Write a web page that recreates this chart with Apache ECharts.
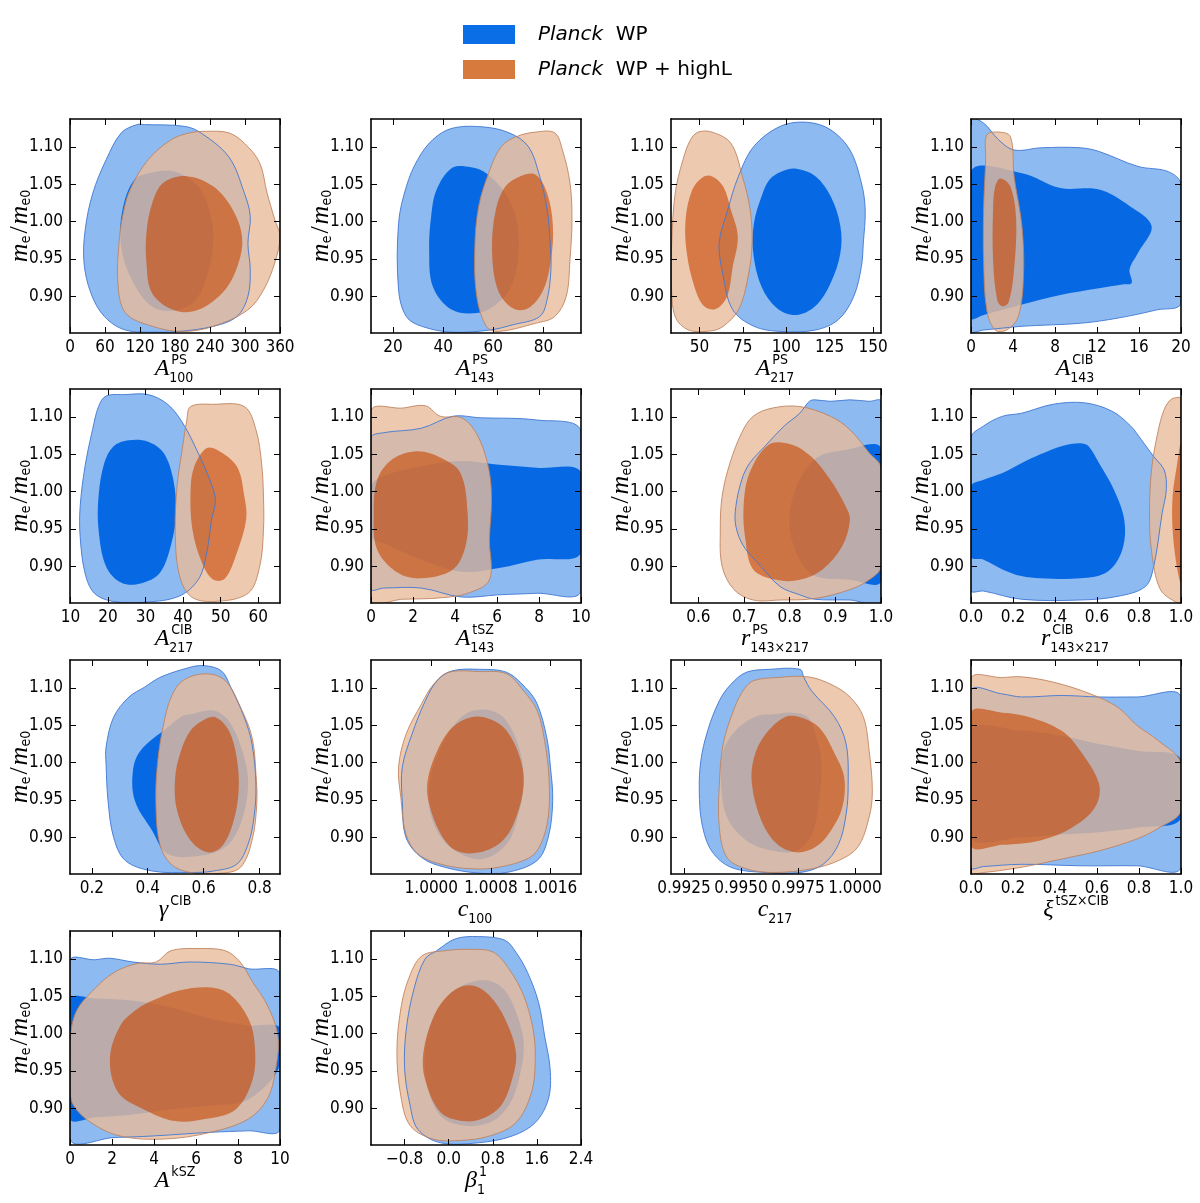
<!DOCTYPE html>
<html>
<head>
<meta charset="utf-8">
<script src="https://cdn.jsdelivr.net/npm/echarts@6/dist/echarts.min.js"></script>
<style>
html, body { margin: 0; padding: 0; background: #fff; }
#main { width: 1200px; height: 1203px; }
</style>
</head>
<body>
<div id="main"></div>
<script>
// shared y axis (m_e / m_e0)
var yTicks = [0.90, 0.95, 1.00, 1.05, 1.10];
var yMin = 0.851, yMax = 1.1375;

// ---------- A^PS_100 ----------
var A100_ticks = [0, 60, 120, 180, 240, 300, 360];
var A100_wp95 = [[128,1.13],[193,1.128],[220,1.121],[272,1.087],[299,1.038],[309,1.007],[305,0.971],[309,0.936],[305,0.90],[286,0.873],[246,0.86],[187,0.853],[154,0.852],[95,0.855],[59,0.873],[36,0.904],[24,0.945],[26,0.989],[39,1.038],[62,1.083],[88,1.119],[115,1.13]];
var A100_wp68 = [[180,1.067],[220,1.047],[243,1.003],[243,0.954],[220,0.90],[187,0.882],[141,0.886],[103,0.927],[87,0.971],[90,1.016],[110,1.056],[141,1.066]];
var A100_hl95 = [[233,1.121],[272,1.119],[299,1.105],[325,1.079],[338,1.038],[351,1.003],[360,0.98],[351,0.945],[332,0.909],[305,0.882],[246,0.86],[193,0.853],[141,0.86],[95,0.878],[82,0.918],[84,0.971],[90,1.007],[103,1.043],[134,1.083],[174,1.11],[206,1.119]];
var A100_hl68 = [[200,1.061],[246,1.047],[279,1.016],[295,0.98],[289,0.945],[266,0.909],[220,0.882],[180,0.881],[141,0.904],[131,0.945],[131,0.985],[141,1.025],[160,1.052]];

// ---------- A^PS_143 ----------
var A143_ticks = [20, 40, 60, 80];
var A143_wp95 = [[43.5,1.125],[55.7,1.127],[66.3,1.119],[73.9,1.101],[78.5,1.061],[81.5,1.016],[82.7,0.971],[83,0.936],[81.5,0.896],[78.5,0.873],[67.8,0.862],[58.7,0.855],[43.5,0.852],[31.4,0.86],[25.3,0.873],[22.2,0.909],[22.2,0.998],[25.3,1.047],[29.8,1.083],[35.9,1.11]];
var A143_wp68 = [[43.5,1.072],[51.1,1.073],[57.2,1.065],[64.8,1.038],[69.3,1.003],[70.1,0.962],[67.8,0.918],[61.8,0.891],[54.2,0.878],[43.5,0.882],[35.9,0.913],[34.4,0.962],[35.2,1.007],[37.4,1.043]];
var A143_hl95 = [[69.3,1.114],[76.9,1.12],[84.5,1.119],[87.6,1.096],[90.6,1.052],[91.4,1.003],[90.6,0.949],[89.1,0.90],[84.5,0.873],[76.9,0.864],[61.8,0.853],[57.2,0.86],[53.4,0.90],[52.6,0.962],[54.2,1.021],[58.7,1.07],[63.3,1.101]];
var A143_hl68 = [[70.8,1.061],[76.9,1.063],[81.5,1.038],[83.8,0.994],[83,0.949],[80,0.909],[73.9,0.884],[67.8,0.884],[61.8,0.909],[59.5,0.962],[61,1.016],[64.8,1.047]];

// ---------- A^PS_217 ----------
var A217_ticks = [50, 75, 100, 125, 150];
var A217_wp95 = [[96.9,1.128],[112.4,1.133],[125.6,1.123],[136.7,1.096],[143.3,1.052],[145.5,1.016],[144.4,0.971],[143.3,0.94],[138.9,0.90],[130.1,0.869],[116.8,0.855],[96.9,0.853],[81.4,0.86],[69.2,0.882],[63.7,0.927],[61.4,0.971],[66.3,1.016],[72.5,1.061],[81.4,1.101]];
var A217_wp68 = [[97,1.067],[105.7,1.071],[116.8,1.061],[125.6,1.034],[131.2,0.994],[131.2,0.958],[125.6,0.918],[116.8,0.887],[105.7,0.875],[94.7,0.884],[85.8,0.913],[81,0.958],[81.4,0.998],[85.8,1.034],[90.2,1.056]];
var A217_hl95 = [[49.3,1.12],[57.1,1.12],[68.1,1.105],[74.7,1.061],[79.2,1.016],[80.3,0.971],[78.1,0.927],[72.5,0.882],[63.7,0.86],[57.1,0.854],[43.8,0.855],[36,0.873],[33.8,0.918],[34,0.971],[36,1.038],[40.5,1.083],[44.9,1.11]];
var A217_hl68 = [[57.1,1.061],[63.7,1.047],[68.1,1.016],[72.1,0.98],[69.2,0.94],[65.9,0.90],[59.3,0.883],[52.6,0.887],[47.1,0.913],[42.7,0.958],[42,1.003],[45.9,1.043],[51.5,1.059]];

// ---------- A^CIB_143 ----------
var C143_ticks = [0, 4, 8, 12, 16, 20];
var C143_wp95 = [[0,1.137],[1.2,1.132],[2.6,1.11],[4.1,1.096],[6.7,1.099],[10.4,1.099],[12.2,1.094],[15.9,1.074],[18.8,1.067],[20,1.05],[20,0.891],[17.7,0.882],[14,0.871],[10.4,0.864],[4.85,0.86],[1.2,0.855],[0,0.854]];
var C143_wp68 = [[0,1.067],[4.85,1.065],[8.5,1.045],[12.2,1.043],[15.1,1.021],[17.2,0.994],[15.9,0.958],[15.1,0.936],[15.3,0.918],[14.4,0.916],[12.2,0.911],[8.5,0.902],[4.85,0.889],[1.2,0.875],[0,0.871]];
var C143_hl95 = [[1.5,1.116],[2.6,1.12],[3.75,1.114],[4.1,1.061],[4.85,0.994],[5.0,0.927],[4.5,0.873],[3.4,0.855],[2.3,0.855],[1.5,0.882],[1.2,0.949],[1.2,1.016],[1.4,1.083]];
var C143_hl68 = [[2.8,1.058],[3.75,1.047],[4.3,1.003],[4.1,0.936],[3.6,0.893],[3.0,0.887],[2.5,0.895],[2.1,0.949],[2.1,1.016],[2.3,1.047]];

// ---------- A^CIB_217 ----------
var C217_ticks = [10, 20, 30, 40, 50, 60];
var C217_wp95 = [[19.5,1.128],[24.6,1.13],[30.7,1.13],[35.9,1.117],[39.9,1.092],[44.0,1.052],[47.1,1.016],[48.6,0.989],[47.6,0.963],[46.1,0.913],[44.0,0.882],[38.9,0.86],[29.7,0.852],[21.5,0.853],[16.4,0.864],[13.9,0.891],[12.6,0.94],[12.6,0.98],[13.9,1.034],[15.9,1.083],[17.5,1.114]];
var C217_wp68 = [[21.5,1.061],[25.6,1.069],[30.7,1.067],[34.8,1.052],[37.4,1.016],[38.1,0.971],[36.9,0.931],[33.8,0.891],[28.7,0.877],[23.6,0.878],[19.5,0.9],[17.5,0.949],[17.5,0.994],[19.0,1.038]];
var C217_hl95 = [[42.0,1.114],[48.1,1.117],[56.3,1.114],[59.4,1.083],[60.9,1.038],[61.4,0.994],[61.4,0.949],[60.4,0.90],[57.3,0.864],[48.1,0.853],[42.0,0.86],[38.9,0.891],[37.9,0.949],[38.4,1.007],[39.9,1.061],[41.0,1.096]];
var C217_hl68 = [[46.1,1.058],[49.1,1.056],[54.3,1.034],[56.3,0.994],[56.8,0.963],[54.3,0.918],[51.2,0.884],[48.1,0.882],[45.1,0.904],[42.5,0.949],[42.0,1.003],[43.0,1.034]];

// ---------- A^tSZ_143 ----------
var tSZ_ticks = [0, 2, 4, 6, 8, 10];
var tSZ_wp95 = [[0,1.072],[0.6,1.079],[2.4,1.085],[3.9,1.101],[5.2,1.099],[7.9,1.096],[10,1.081],[10,0.867],[7.9,0.864],[6.1,0.862],[4.3,0.859],[2.4,0.871],[0.6,0.871],[0,0.87]];
var tSZ_wp68 = [[0,1.007],[0.6,1.021],[2.4,1.034],[4.3,1.041],[6.1,1.036],[7.9,1.032],[10,1.026],[10,0.918],[7.9,0.909],[6.1,0.898],[4.3,0.893],[2.4,0.909],[0.6,0.931],[0,0.94]];
var tSZ_hl95 = [[0,1.108],[1.5,1.112],[2.6,1.115],[3.3,1.101],[4.3,1.099],[5,1.079],[5.55,1.038],[5.74,0.994],[5.64,0.936],[5.64,0.882],[4.6,0.864],[3.35,0.858],[1.5,0.856],[0,0.855]];
var tSZ_hl68 = [[1,1.043],[2.2,1.054],[3.35,1.045],[4.26,1.025],[4.6,0.971],[4.5,0.927],[3.9,0.896],[2.4,0.884],[1.3,0.891],[0.3,0.922],[0.13,0.971],[0.3,1.016]];

// ---------- r^PS_143x217 ----------
var rPS_ticks = [0.6, 0.7, 0.8, 0.9, 1.0];
var rPS_wp95 = [[0.855,1.123],[0.889,1.121],[0.932,1.123],[0.974,1.121],[1,1.121],[1,0.853],[0.932,0.855],[0.855,0.856],[0.822,0.862],[0.779,0.873],[0.737,0.9],[0.699,0.927],[0.682,0.954],[0.682,0.98],[0.695,1.016],[0.712,1.038],[0.746,1.061],[0.788,1.088],[0.822,1.105],[0.843,1.121]];
var rPS_wp68 = [[1,1.058],[1,0.88],[0.932,0.882],[0.855,0.887],[0.822,0.909],[0.8,0.949],[0.805,0.989],[0.83,1.025],[0.864,1.047],[0.915,1.055]];
var rPS_hl95 = [[0.72,1.101],[0.762,1.112],[0.822,1.114],[0.889,1.101],[0.932,1.083],[0.974,1.052],[1,1.032],[1,0.9],[0.974,0.882],[0.932,0.869],[0.855,0.857],[0.779,0.855],[0.72,0.855],[0.678,0.869],[0.652,0.9],[0.648,0.949],[0.652,0.994],[0.669,1.038],[0.695,1.079]];
var rPS_hl68 = [[0.754,1.063],[0.805,1.063],[0.847,1.047],[0.889,1.016],[0.923,0.98],[0.932,0.962],[0.915,0.927],[0.872,0.896],[0.822,0.882],[0.771,0.882],[0.72,0.896],[0.703,0.936],[0.699,0.98],[0.712,1.025]];

// ---------- r^CIB_143x217 ----------
var rCIB_ticks = [0.0, 0.2, 0.4, 0.6, 0.8, 1.0];
var rCIB_wp95 = [[0,1.072],[0.06,1.088],[0.15,1.101],[0.24,1.105],[0.39,1.117],[0.54,1.119],[0.67,1.108],[0.76,1.088],[0.81,1.07],[0.87,1.047],[0.92,1.029],[0.93,1.003],[0.91,0.971],[0.87,0.9],[0.83,0.873],[0.7,0.86],[0.52,0.855],[0.24,0.856],[0.06,0.867],[0,0.868]];
var rCIB_wp68 = [[0,1.007],[0.06,1.016],[0.15,1.025],[0.24,1.038],[0.33,1.05],[0.43,1.061],[0.52,1.065],[0.56,1.061],[0.61,1.038],[0.68,1.003],[0.73,0.962],[0.72,0.922],[0.65,0.893],[0.52,0.884],[0.33,0.884],[0.24,0.887],[0.15,0.896],[0.06,0.909],[0,0.913]];
var rCIB_hl95 = [[0.95,1.123],[0.98,1.126],[1,1.125],[1,0.853],[0.97,0.853],[0.9,0.87],[0.86,0.92],[0.85,0.97],[0.86,1.03],[0.89,1.08],[0.92,1.11]];
var rCIB_hl68 = [[1,1.065],[0.98,1.034],[0.96,0.994],[0.96,0.949],[0.98,0.9],[1,0.878]];

// ---------- gamma^CIB ----------
var gam_ticks = [0.2, 0.4, 0.6, 0.8];
var gam_wp95 = [[0.388,1.101],[0.443,1.114],[0.526,1.125],[0.594,1.13],[0.663,1.123],[0.697,1.101],[0.745,1.061],[0.773,1.025],[0.787,0.971],[0.78,0.927],[0.759,0.891],[0.718,0.864],[0.635,0.855],[0.553,0.853],[0.416,0.855],[0.32,0.869],[0.278,0.9],[0.258,0.949],[0.251,0.998],[0.251,1.021],[0.278,1.061],[0.333,1.088]];
var gam_wp68 = [[0.553,1.065],[0.635,1.07],[0.69,1.056],[0.738,1.016],[0.759,0.971],[0.732,0.918],[0.677,0.887],[0.58,0.875],[0.47,0.878],[0.416,0.909],[0.354,0.949],[0.347,0.989],[0.374,1.016],[0.47,1.047],[0.525,1.063]];
var gam_hl95 = [[0.526,1.11],[0.608,1.119],[0.677,1.11],[0.732,1.074],[0.773,1.034],[0.787,0.985],[0.79,0.945],[0.773,0.896],[0.732,0.86],[0.663,0.852],[0.553,0.853],[0.484,0.864],[0.443,0.891],[0.429,0.949],[0.436,1.003],[0.457,1.052],[0.484,1.088]];
var gam_hl68 = [[0.594,1.056],[0.642,1.061],[0.69,1.043],[0.718,1.007],[0.725,0.962],[0.704,0.918],[0.663,0.887],[0.615,0.88],[0.553,0.896],[0.505,0.936],[0.498,0.98],[0.519,1.016],[0.553,1.043]];

// ---------- c_100 ----------
var c100_ticks = [1.0000, 1.0008, 1.0016];
var c100_wp95 = [[1.00028,1.123],[1.00065,1.125],[1.00101,1.121],[1.00126,1.101],[1.00142,1.079],[1.00155,1.034],[1.0016,0.994],[1.00163,0.949],[1.00157,0.9],[1.00142,0.869],[1.00101,0.853],[1.00065,0.852],[1.00018,0.86],[0.99987,0.873],[0.99966,0.9],[0.99961,0.949],[0.99961,0.994],[0.99974,1.038],[0.99992,1.083],[1.00008,1.11]];
var c100_wp68 = [[1.00049,1.067],[1.0008,1.07],[1.00101,1.056],[1.00119,1.016],[1.00124,0.971],[1.00116,0.927],[1.00101,0.891],[1.0007,0.871],[1.00039,0.878],[1.00013,0.9],[0.99997,0.94],[1,0.985],[1.00013,1.021],[1.00028,1.047]];
var c100_hl95 = [[1.00023,1.121],[1.00065,1.122],[1.00101,1.119],[1.00124,1.096],[1.00142,1.07],[1.00152,1.03],[1.00158,0.98],[1.00157,0.927],[1.00147,0.891],[1.00132,0.873],[1.0009,0.86],[1.00054,0.858],[1.00013,0.864],[0.99982,0.878],[0.99966,0.904],[0.99959,0.954],[0.99956,0.994],[0.99966,1.038],[0.99987,1.079],[1.00003,1.105]];
var c100_hl68 = [[1.00054,1.061],[1.0008,1.058],[1.00101,1.043],[1.00119,1.007],[1.00124,0.971],[1.00114,0.927],[1.00096,0.896],[1.00065,0.88],[1.00034,0.882],[1.00013,0.904],[0.99997,0.945],[0.99995,0.976],[1.00008,1.016],[1.00028,1.047]];

// ---------- c_217 ----------
var c217_ticks = [0.9925, 0.9950, 0.9975, 1.0000];
var c217_wp95 = [[0.99523,1.121],[0.99624,1.125],[0.99759,1.125],[0.99776,1.114],[0.9981,1.096],[0.99911,1.061],[0.99961,1.025],[0.9997,0.971],[0.99961,0.931],[0.99928,0.891],[0.9986,0.864],[0.99759,0.853],[0.99607,0.853],[0.99456,0.86],[0.99371,0.882],[0.99329,0.918],[0.99317,0.962],[0.99324,1.003],[0.99354,1.043],[0.99405,1.083],[0.99456,1.105]];
var c217_wp68 = [[0.99641,1.065],[0.99725,1.067],[0.99793,1.061],[0.99826,1.038],[0.99852,1.003],[0.99843,0.949],[0.9981,0.904],[0.99742,0.882],[0.99641,0.882],[0.99523,0.896],[0.99439,0.927],[0.99413,0.971],[0.99422,1.016],[0.99489,1.047],[0.99574,1.063]];
var c217_hl95 = [[0.99557,1.11],[0.99658,1.114],[0.99793,1.115],[0.99894,1.105],[0.99978,1.088],[1.00037,1.061],[1.00062,1.016],[1.00076,0.962],[1.00062,0.927],[1.00012,0.887],[0.99928,0.869],[0.9981,0.858],[0.99641,0.853],[0.99523,0.858],[0.99439,0.873],[0.99405,0.913],[0.99405,0.971],[0.99422,1.025],[0.99472,1.074],[0.99515,1.099]];
var c217_hl68 = [[0.99692,1.061],[0.99759,1.061],[0.99843,1.047],[0.99911,1.012],[0.99953,0.98],[0.99944,0.94],[0.99894,0.909],[0.99827,0.887],[0.99742,0.88],[0.99658,0.891],[0.9959,0.922],[0.99548,0.971],[0.99557,1.007],[0.99607,1.038]];

// ---------- xi^tSZxCIB ----------
var xi_ticks = [0.0, 0.2, 0.4, 0.6, 0.8, 1.0];
var xi_wp95 = [[0,1.096],[0.15,1.092],[0.24,1.088],[0.43,1.09],[0.61,1.088],[0.79,1.088],[1,1.088],[1,0.86],[0.79,0.862],[0.52,0.862],[0.24,0.864],[0.06,0.861],[0,0.86]];
var xi_wp68 = [[0,1.043],[0.24,1.043],[0.43,1.036],[0.61,1.025],[0.79,1.016],[1,1.005],[1,0.925],[0.79,0.913],[0.61,0.907],[0.43,0.904],[0.24,0.9],[0,0.9]];
var xi_hl95 = [[0,1.112],[0.15,1.114],[0.24,1.115],[0.39,1.108],[0.57,1.092],[0.7,1.074],[0.79,1.05],[0.89,1.03],[1,1.0],[1,0.935],[0.89,0.912],[0.79,0.898],[0.61,0.882],[0.43,0.871],[0.24,0.86],[0.06,0.853],[0,0.853]];
var xi_hl68 = [[0,1.067],[0.15,1.067],[0.28,1.061],[0.43,1.043],[0.52,1.016],[0.61,0.971],[0.59,0.94],[0.48,0.913],[0.33,0.896],[0.15,0.89],[0,0.889]];

// ---------- A^kSZ ----------
var kSZ_ticks = [0, 2, 4, 6, 8, 10];
var kSZ_wp95 = [[0,1.098],[1.17,1.099],[1.9,1.101],[3,1.096],[4.3,1.093],[5.7,1.096],[7.6,1.093],[8.5,1.087],[10,1.08],[10,0.872],[8.5,0.87],[6.7,0.868],[3.9,0.863],[2.1,0.861],[0,0.859]];
var kSZ_wp68 = [[0,1.046],[1.2,1.047],[3,1.044],[4.8,1.035],[6.7,1.02],[8.5,1.011],[10,1.008],[10,0.957],[8.5,0.912],[6.7,0.904],[4.8,0.899],[3,0.892],[1.2,0.888],[0,0.886]];
var kSZ_hl95 = [[4.1,1.096],[4.8,1.111],[6.1,1.114],[7.4,1.111],[8.1,1.096],[8.7,1.069],[9.4,1.038],[9.9,0.997],[9.8,0.953],[9.4,0.913],[8.5,0.886],[6.7,0.868],[4.5,0.859],[2.4,0.863],[1,0.881],[0.15,0.905],[0,0.93],[0,0.99],[0.3,1.03],[1.17,1.06],[2.1,1.082],[3.2,1.094]];
var kSZ_hl68 = [[3.9,1.044],[5.2,1.058],[6.7,1.062],[7.6,1.053],[8.5,1.02],[8.8,0.984],[8.7,0.939],[7.9,0.899],[6.5,0.886],[5,0.883],[3.5,0.899],[2.3,0.921],[1.9,0.966],[2.4,1.011],[3.2,1.033]];

// ---------- beta^1_1 ----------
var beta_ticks = [-0.8, 0.0, 0.8, 1.6, 2.4];
var beta_wp95 = [[-0.22,1.111],[0.12,1.127],[0.54,1.13],[1.02,1.125],[1.22,1.109],[1.43,1.082],[1.63,1.042],[1.74,0.997],[1.84,0.953],[1.81,0.913],[1.57,0.881],[1.15,0.863],[0.54,0.854],[-0.15,0.854],[-0.56,0.872],[-0.7,0.904],[-0.8,0.953],[-0.77,1.006],[-0.63,1.06],[-0.43,1.1]];
var beta_wp68 = [[0.4,1.069],[0.74,1.071],[1.02,1.058],[1.22,1.029],[1.36,0.988],[1.29,0.944],[1.09,0.904],[0.74,0.881],[0.26,0.877],[-0.15,0.89],[-0.39,0.93],[-0.43,0.975],[-0.29,1.02],[0.05,1.055]];
var beta_hl95 = [[-0.49,1.104],[-0.08,1.111],[0.4,1.113],[0.81,1.109],[1.09,1.087],[1.36,1.051],[1.53,1.006],[1.57,0.966],[1.5,0.921],[1.22,0.881],[0.74,0.863],[0.19,0.857],[-0.29,0.859],[-0.7,0.877],[-0.87,0.917],[-0.94,0.975],[-0.87,1.033],[-0.73,1.073]];
var beta_hl68 = [[0.19,1.062],[0.47,1.064],[0.74,1.051],[1.02,1.02],[1.22,0.975],[1.15,0.939],[0.95,0.904],[0.6,0.886],[0.26,0.883],[-0.15,0.895],[-0.43,0.939],[-0.46,0.975],[-0.29,1.02],[-0.08,1.046]];

// panel list: axis limits, tick decimals and axis title pieces
var panels = [
  { min: 0, max: 360, ticks: A100_ticks, dec: 0, t: ['A', 'PS', '100'], c: [A100_wp95, A100_wp68, A100_hl95, A100_hl68] },
  { min: 11.2, max: 95, ticks: A143_ticks, dec: 0, t: ['A', 'PS', '143'], c: [A143_wp95, A143_wp68, A143_hl95, A143_hl68] },
  { min: 33.6, max: 154.6, ticks: A217_ticks, dec: 0, t: ['A', 'PS', '217'], c: [A217_wp95, A217_wp68, A217_hl95, A217_hl68] },
  { min: 0, max: 20, ticks: C143_ticks, dec: 0, t: ['A', 'CIB', '143'], c: [C143_wp95, C143_wp68, C143_hl95, C143_hl68] },
  { min: 9.9, max: 65.8, ticks: C217_ticks, dec: 0, t: ['A', 'CIB', '217'], c: [C217_wp95, C217_wp68, C217_hl95, C217_hl68] },
  { min: 0, max: 10, ticks: tSZ_ticks, dec: 0, t: ['A', 'tSZ', '143'], c: [tSZ_wp95, tSZ_wp68, tSZ_hl95, tSZ_hl68] },
  { min: 0.54, max: 1.0, ticks: rPS_ticks, dec: 1, t: ['r', 'PS', '143\u00d7217'], c: [rPS_wp95, rPS_wp68, rPS_hl95, rPS_hl68] },
  { min: 0, max: 1.0, ticks: rCIB_ticks, dec: 1, t: ['r', 'CIB', '143\u00d7217'], c: [rCIB_wp95, rCIB_wp68, rCIB_hl95, rCIB_hl68] },
  { min: 0.122, max: 0.873, ticks: gam_ticks, dec: 1, t: ['\u03b3', 'CIB', ''], c: [gam_wp95, gam_wp68, gam_hl95, gam_hl68] },
  { min: 0.99919, max: 1.00201, ticks: c100_ticks, dec: 4, t: ['c', '', '100'], c: [c100_wp95, c100_wp68, c100_hl95, c100_hl68] },
  { min: 0.99193, max: 1.00114, ticks: c217_ticks, dec: 4, t: ['c', '', '217'], c: [c217_wp95, c217_wp68, c217_hl95, c217_hl68] },
  { min: 0, max: 1.0, ticks: xi_ticks, dec: 1, t: ['\u03be', 'tSZ\u00d7CIB', ''], c: [xi_wp95, xi_wp68, xi_hl95, xi_hl68] },
  { min: 0, max: 10, ticks: kSZ_ticks, dec: 0, t: ['A', 'kSZ', ''], c: [kSZ_wp95, kSZ_wp68, kSZ_hl95, kSZ_hl68] },
  { min: -1.41, max: 2.4, ticks: beta_ticks, dec: 1, t: ['\u03b2', '1', '1'], c: [beta_wp95, beta_wp68, beta_hl95, beta_hl68] }
];

var colLeft = [70, 371, 671, 971];
var rowTop = [119, 389, 660, 931];
var boxW = 210, boxH = 214;

var sans = '"Liberation Sans Narrow", "DejaVu Sans Condensed", "Liberation Sans", sans-serif';
var serif = '"Liberation Serif", "DejaVu Serif", serif';

// fill colour and outline colour for WP 95/68 and WP+highL 95/68
var fills = ['#8dbaf0', '#0669e3', 'rgba(232,187,155,0.8)', 'rgba(199,69,0,0.6)'];
var lines = ['#3f77d2', null, 'rgba(190,128,92,0.95)', null];

var ctx = document.createElement('canvas').getContext('2d');
function textW(s, font) { ctx.font = font; return ctx.measureText(s).width; }

function contourSeries(k, pts, fill, stroke, z) {
  return {
    type: 'custom',
    coordinateSystem: 'cartesian2d',
    xAxisIndex: 2 * k,
    yAxisIndex: 2 * k,
    clip: true,
    silent: true,
    z: z,
    data: pts,
    renderItem: function (params, api) {
      if (params.dataIndex > 0) return null;
      var p = pts.map(function (d) { return api.coord(d); });
      return {
        type: 'polygon',
        shape: { points: p, smooth: 0.35 },
        style: { fill: fill || 'none', stroke: stroke || 'none', lineWidth: stroke ? 0.9 : 0 }
      };
    }
  };
}

var grids = [], xAxes = [], yAxes = [], series = [], graphics = [];

panels.forEach(function (pn, k) {
  var left = colLeft[k % 4], top = rowTop[Math.floor(k / 4)];
  grids.push({ left: left, top: top, width: boxW, height: boxH, containLabel: false, outerBoundsMode: 'none' });

  var fmt = function (v) { return v.toFixed(pn.dec).replace('-', '\u2212'); };
  var tickStyle = { inside: true, length: 6, customValues: pn.ticks, lineStyle: { color: '#000', width: 1 } };
  var lineStyle = { onZero: false, lineStyle: { color: '#000', width: 1.6 } };

  xAxes.push({
    gridIndex: k, type: 'value', min: pn.min, max: pn.max, position: 'bottom', z: 10,
    axisLine: lineStyle, axisTick: tickStyle, splitLine: { show: false },
    axisLabel: { customValues: pn.ticks, formatter: fmt, color: '#000', fontSize: 17, fontFamily: sans, margin: 6 }
  });
  xAxes.push({
    gridIndex: k, type: 'value', min: pn.min, max: pn.max, position: 'top', z: 10,
    axisLine: lineStyle, axisTick: tickStyle, splitLine: { show: false }, axisLabel: { show: false }
  });
  yAxes.push({
    gridIndex: k, type: 'value', min: yMin, max: yMax, position: 'left', z: 10,
    axisLine: lineStyle,
    axisTick: { inside: true, length: 6, customValues: yTicks, lineStyle: { color: '#000', width: 1 } },
    splitLine: { show: false },
    axisLabel: { customValues: yTicks, formatter: function (v) { return v.toFixed(2); }, color: '#000', fontSize: 17, fontFamily: sans, margin: 7 }
  });
  yAxes.push({
    gridIndex: k, type: 'value', min: yMin, max: yMax, position: 'right', z: 10,
    axisLine: lineStyle,
    axisTick: { inside: true, length: 6, customValues: yTicks, lineStyle: { color: '#000', width: 1 } },
    splitLine: { show: false }, axisLabel: { show: false }
  });

  // fills, then the 95% outlines on top
  pn.c.forEach(function (pts, j) {
    series.push(contourSeries(k, pts, fills[j], null, 1 + j));
  });
  series.push(contourSeries(k, pn.c[0], null, lines[0], 6));
  series.push(contourSeries(k, pn.c[2], null, lines[2], 6));

  // y title  m_e / m_e0
  graphics.push({
    type: 'text', x: left - 50, y: top + boxH / 2, rotation: Math.PI / 2, z: 20,
    style: {
      text: '{m|m}{s|e}{n|/}{m|m}{s|e0}', align: 'center', verticalAlign: 'middle', fill: '#000',
      rich: {
        m: { fontFamily: serif, fontStyle: 'italic', fontSize: 26, fill: '#000' },
        n: { fontFamily: serif, fontSize: 26, fill: '#000', padding: [0, 2, 0, 2] },
        s: { fontFamily: sans, fontSize: 14, fill: '#000', verticalAlign: 'bottom', padding: [13, 0, 0, 0] }
      }
    }
  });

  // x title with stacked super/subscript
  var mainFont = 'italic 24px ' + serif, smallFont = '14px ' + sans;
  var mw = textW(pn.t[0], mainFont);
  var sw = textW(pn.t[1], smallFont), bw = textW(pn.t[2], smallFont);
  var total = mw + 2 + Math.max(sw, bw);
  var x0 = left + boxW / 2 - total / 2, by = top + boxH;
  graphics.push({ type: 'text', x: x0, y: by + 36, z: 20,
    style: { text: pn.t[0], fontFamily: serif, fontStyle: 'italic', fontSize: 24, fill: '#000', align: 'left', verticalAlign: 'middle' } });
  if (pn.t[1]) graphics.push({ type: 'text', x: x0 + mw + 2, y: by + 27, z: 20,
    style: { text: pn.t[1], fontFamily: sans, fontSize: 14, fill: '#000', align: 'left', verticalAlign: 'middle' } });
  if (pn.t[2]) graphics.push({ type: 'text', x: x0 + mw, y: by + 45, z: 20,
    style: { text: pn.t[2], fontFamily: sans, fontSize: 14, fill: '#000', align: 'left', verticalAlign: 'middle' } });
});

// legend
graphics.push({ type: 'rect', shape: { x: 463, y: 25, width: 52, height: 19 }, style: { fill: '#0a6fe6' } });
graphics.push({ type: 'rect', shape: { x: 463, y: 60, width: 52, height: 19 }, style: { fill: '#d67a3e' } });
graphics.push({ type: 'text', x: 538, y: 35, style: { text: '{i|Planck}  WP', fontFamily: '"DejaVu Sans", sans-serif', fontSize: 20, fill: '#000', verticalAlign: 'middle',
  rich: { i: { fontStyle: 'italic', fontFamily: '"DejaVu Sans", sans-serif', fontSize: 20, fill: '#000' } } } });
graphics.push({ type: 'text', x: 538, y: 70, style: { text: '{i|Planck}  WP + highL', fontFamily: '"DejaVu Sans", sans-serif', fontSize: 20, fill: '#000', verticalAlign: 'middle',
  rich: { i: { fontStyle: 'italic', fontFamily: '"DejaVu Sans", sans-serif', fontSize: 20, fill: '#000' } } } });

var chart = echarts.init(document.getElementById('main'), null, { renderer: 'canvas' });
chart.setOption({
  animation: false,
  backgroundColor: '#fff',
  grid: grids,
  xAxis: xAxes,
  yAxis: yAxes,
  series: series,
  graphic: graphics
});
</script>
</body>
</html>
